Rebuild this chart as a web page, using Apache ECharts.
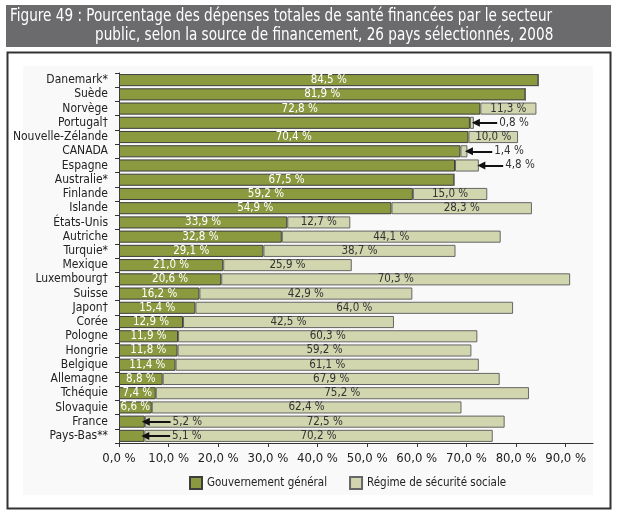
<!DOCTYPE html>
<html><head><meta charset="utf-8">
<script src="https://cdn.jsdelivr.net/npm/echarts@6/dist/echarts.min.js"></script>
<style>html,body{margin:0;padding:0;background:#fff}#c{width:622px;height:519px}</style>
</head><body><div id="c"></div>
<script>
var categories = ["Danemark*","Suède","Norvège","Portugal†","Nouvelle-Zélande","CANADA","Espagne","Australie*","Finlande","Islande","États-Unis","Autriche","Turquie*","Mexique","Luxembourg†","Suisse","Japon†","Corée","Pologne","Hongrie","Belgique","Allemagne","Tchéquie","Slovaquie","France","Pays-Bas**"];
var gouvernement = [84.5,81.9,72.8,70.7,70.4,68.8,67.7,67.5,59.2,54.9,33.9,32.8,29.1,21.0,20.6,16.2,15.4,12.9,11.9,11.8,11.4,8.8,7.4,6.6,5.2,5.1];
var securite = [0,0,11.3,0.8,10.0,1.4,4.8,0,15.0,28.3,12.7,44.1,38.7,25.9,70.3,42.9,64.0,42.5,60.3,59.2,61.1,67.9,75.2,62.4,72.5,70.2];
var xTicks = [0,10,20,30,40,50,60,70,80,90];
// callouts: category, value shown, arrow head and tail positions (axis units)
var calloutCats = ["Portugal†","CANADA","Espagne","France","Pays-Bas**"];
var calloutVals = [0.8,1.4,4.8,5.2,5.1];
var calloutHead = [71.9,70.5,73.0,5.4,5.3];
var calloutTail = [76.2,75.2,77.4,10.4,10.3];
var seriesNames = ["Gouvernement général","Régime de sécurité sociale"];

var FONT = "'Liberation Sans Narrow','DejaVu Sans Condensed','Arial Narrow',sans-serif";
function fr(v){ return v.toFixed(1).replace('.', ',') + ' %'; }

var chart = echarts.init(document.getElementById('c'), null, {renderer:'canvas'});

var govData = gouvernement.map(function(v, i){
  var d = {value: v};
  if (calloutCats.indexOf(categories[i]) >= 0) d.label = {show:false};
  return d;
});
var secData = securite.map(function(v, i){
  var d = {value: v};
  var k = calloutCats.indexOf(categories[i]);
  if (v === 0 || (k >= 0 && calloutVals[k] === v)) d.label = {show:false};
  return d;
});

var markData = calloutCats.map(function(c, i){
  return [
    {coord:[calloutTail[i], c], label:{formatter: fr(calloutVals[i])}},
    {coord:[calloutHead[i], c]}
  ];
});

var option = {
  animation: false,
  textStyle: {fontFamily: FONT},
  graphic: [
    {type:'rect', shape:{x:6,y:5,width:605,height:42}, style:{fill:'#6b6b6e'}, silent:true},
    {type:'text', x:10, y:8, scaleX:0.89, style:{text:'Figure 49 : Pourcentage des dépenses totales de santé financées par le secteur', fill:'#fff', font:'17px ' + FONT}},
    {type:'text', x:95, y:27, scaleX:0.89, style:{text:'public, selon la source de financement, 26 pays sélectionnés, 2008', fill:'#fff', font:'17px ' + FONT}},
    {type:'rect', shape:{x:7.5,y:52.5,width:603,height:456}, style:{fill:'none', stroke:'#333', lineWidth:2}, silent:true, z:-1},
    {type:'rect', shape:{x:23,y:66,width:570,height:429}, style:{fill:'#f9f9f9'}, silent:true, z:-2}
  ],
  grid: {left:119, right:29, top:73, bottom:76},
  legend: {
    bottom: 24, left: 184, itemWidth: 12, itemHeight: 12, itemGap: 22,
    icon: 'rect',
    textStyle: {fontFamily: FONT, fontSize: 11.5, color:'#222'},
    data: seriesNames
  },
  xAxis: {
    type:'value', min:0, max:95.5,
    axisLine:{show:true, lineStyle:{color:'#333', width:1}},
    axisTick:{show:true, length:4, lineStyle:{color:'#333'}, customValues: xTicks},
    splitLine:{show:false},
    axisLabel:{customValues: xTicks, formatter: function(v){return fr(v);}, color:'#222', fontSize:13, fontFamily: FONT, margin:9}
  },
  yAxis: {
    type:'category', data: categories, inverse:true,
    axisLine:{show:true, lineStyle:{color:'#333', width:1}},
    axisTick:{show:true, length:4, lineStyle:{color:'#333'}},
    axisLabel:{interval:0, color:'#222', fontSize:12, fontFamily: FONT, margin:11}
  },
  series: [
    {
      name: seriesNames[0], type:'bar', stack:'s', data: govData,
      barCategoryGap: '15%',
      itemStyle:{color:'#8b9a3f', borderColor:'#3d3d3d', borderWidth:1},
      label:{show:true, position:'inside', formatter:function(p){return fr(p.value);}, color:'#fff', fontSize:11.5, fontFamily: FONT}
    },
    {
      name: seriesNames[1], type:'bar', stack:'s', data: secData,
      barCategoryGap: '15%',
      itemStyle:{color:'#d1d6ae', borderColor:'#666', borderWidth:1},
      label:{show:true, position:'inside', formatter:function(p){return fr(p.value);}, color:'#333', fontSize:11.5, fontFamily: FONT},
      markLine:{
        silent:true, animation:false,
        symbol:['none','triangle'], symbolSize:[8,8],
        lineStyle:{color:'#111', width:2, type:'solid'},
        label:{show:true, position:'start', color:'#333', fontSize:11.5, fontFamily: FONT, distance:2},
        data: markData
      }
    }
  ]
};
chart.setOption(option);
</script></body></html>
